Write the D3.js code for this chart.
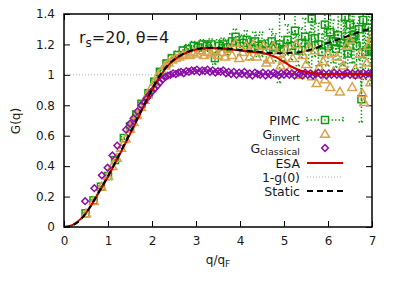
<!DOCTYPE html>
<html>
<head>
<meta charset="utf-8">
<script src="https://cdn.jsdelivr.net/npm/d3@7"></script>
<style>
  body { margin: 0; background: #fff; }
  text { font-family: "DejaVu Sans", sans-serif; fill: #1a1a1a; }
</style>
</head>
<body>
<div id="chart"></div>
<script>
// ---- data ----
let xTicks = [0, 1, 2, 3, 4, 5, 6, 7];
let yTicks = [0, 0.2, 0.4, 0.6, 0.8, 1, 1.2, 1.4];

let staticQ = [0, 0.2, 0.4, 0.6, 0.8, 1.0, 1.2, 1.4, 1.6, 1.8, 2.0, 2.2, 2.4, 2.6, 2.8, 3.0, 3.2, 3.4, 3.6, 3.8, 4.0, 4.2, 4.4, 4.6, 4.8, 5.0, 5.2, 5.4, 5.6, 5.8, 6.0, 6.2, 6.4, 6.6, 6.8, 7.0];
let staticG = [0, 0.012, 0.055, 0.135, 0.235, 0.335, 0.445, 0.56, 0.675, 0.79, 0.905, 1.005, 1.075, 1.12, 1.15, 1.168, 1.177, 1.178, 1.175, 1.17, 1.163, 1.157, 1.152, 1.147, 1.143, 1.142, 1.145, 1.152, 1.165, 1.185, 1.21, 1.23, 1.25, 1.27, 1.29, 1.305];

let esaQ = [0, 0.2, 0.4, 0.6, 0.8, 1.0, 1.2, 1.4, 1.6, 1.8, 2.0, 2.2, 2.4, 2.6, 2.8, 3.0, 3.2, 3.4, 3.6, 3.8, 4.0, 4.2, 4.4, 4.6, 4.8, 5.0, 5.2, 5.4, 5.6, 5.8, 6.0, 6.4, 6.8, 7.0];
let esaG = [0, 0.014, 0.058, 0.133, 0.23, 0.33, 0.44, 0.552, 0.668, 0.785, 0.9, 1.0, 1.072, 1.118, 1.148, 1.166, 1.175, 1.177, 1.172, 1.166, 1.16, 1.153, 1.148, 1.138, 1.118, 1.085, 1.05, 1.025, 1.012, 1.007, 1.005, 1.005, 1.005, 1.005];

let pimcQ = [0.49, 0.67, 0.84, 1.0, 1.16, 1.36, 1.5, 1.64, 1.76, 1.92, 2.05, 2.18, 2.33, 2.45, 2.58, 2.7, 2.82, 2.95, 3.05, 3.15, 3.25, 3.35, 3.43, 3.52, 3.62, 3.72, 3.82, 3.9, 4.0, 4.08, 4.15, 4.25, 4.34, 4.42, 4.5, 4.6, 4.72, 4.8, 4.9, 5.0, 5.08, 5.17, 5.25, 5.33, 5.4, 5.48, 5.56, 5.63, 5.7, 5.78, 5.86, 5.93, 6.0, 6.05, 6.12, 6.18, 6.23, 6.3, 6.35, 6.39, 6.45, 6.5, 6.55, 6.59, 6.65, 6.7, 6.76, 6.8, 6.85, 6.92, 6.97, 7.0];
let pimcG = [0.09, 0.175, 0.265, 0.335, 0.44, 0.585, 0.66, 0.74, 0.81, 0.88, 0.955, 1.02, 1.075, 1.11, 1.13, 1.16, 1.17, 1.19, 1.18, 1.2, 1.19, 1.2, 1.11, 1.19, 1.2, 1.18, 1.22, 1.25, 1.19, 1.21, 1.23, 1.17, 1.22, 1.19, 1.2, 1.16, 1.22, 1.18, 1.2, 1.17, 1.23, 1.19, 1.29, 1.16, 1.21, 1.25, 1.18, 1.37, 1.24, 1.2, 1.15, 1.33, 1.19, 1.28, 1.22, 1.17, 1.26, 1.21, 1.21, 1.38, 1.14, 1.33, 1.24, 1.26, 1.19, 1.3, 0.84, 1.36, 1.15, 1.31, 1.16, 1.16];
let pimcErr = [0.005, 0.005, 0.005, 0.006, 0.006, 0.008, 0.008, 0.01, 0.01, 0.01, 0.012, 0.015, 0.02, 0.02, 0.025, 0.025, 0.03, 0.03, 0.03, 0.03, 0.035, 0.035, 0.04, 0.04, 0.04, 0.05, 0.05, 0.05, 0.06, 0.05, 0.06, 0.07, 0.06, 0.07, 0.08, 0.07, 0.08, 0.09, 0.25, 0.08, 0.1, 0.09, 0.12, 0.1, 0.1, 0.12, 0.1, 0.35, 0.12, 0.14, 0.12, 0.15, 0.13, 0.15, 0.14, 0.12, 0.16, 0.14, 0.15, 0.3, 0.14, 0.2, 0.16, 0.18, 0.15, 0.2, 0.15, 0.25, 0.18, 0.3, 0.2, 0.22];

let invQ = [0.5, 0.68, 0.85, 1.0, 1.1, 1.2, 1.3, 1.4, 1.5, 1.58, 1.66, 1.75, 1.83, 1.9, 1.98, 2.06, 2.14, 2.22, 2.3, 2.38, 2.46, 2.54, 2.62, 2.7, 2.78, 2.86, 2.94, 3.02, 3.1, 3.18, 3.26, 3.34, 3.42, 3.5, 3.58, 3.66, 3.74, 3.82, 3.9, 3.98, 4.06, 4.14, 4.22, 4.3, 4.38, 4.46, 4.53, 4.6, 4.68, 4.76, 4.84, 4.92, 4.98, 5.05, 5.12, 5.2, 5.28, 5.35, 5.43, 5.5, 5.57, 5.64, 5.7, 5.74, 5.8, 5.89, 5.93, 6.0, 6.05, 6.12, 6.2, 6.27, 6.34, 6.42, 6.5, 6.55, 6.62, 6.68, 6.73, 6.78, 6.82, 6.88, 6.92, 6.96, 7.0];
let invG = [0.09, 0.17, 0.265, 0.335, 0.4, 0.455, 0.52, 0.58, 0.645, 0.69, 0.735, 0.79, 0.835, 0.87, 0.915, 0.955, 1.0, 1.03, 1.06, 1.08, 1.1, 1.11, 1.12, 1.13, 1.14, 1.13, 1.15, 1.14, 1.16, 1.13, 1.15, 1.14, 1.16, 1.13, 1.15, 1.12, 1.17, 1.13, 1.21, 1.11, 1.15, 1.19, 1.12, 1.2, 1.12, 1.16, 1.19, 1.08, 1.1, 1.19, 1.14, 1.06, 1.1, 1.17, 1.03, 1.11, 1.2, 1.0, 1.13, 1.07, 1.18, 0.99, 1.16, 0.945, 1.05, 1.09, 0.97, 1.14, 0.92, 1.02, 1.12, 0.89, 1.06, 1.19, 1.23, 0.92, 1.04, 1.0, 1.14, 0.88, 0.82, 1.08, 1.19, 0.95, 1.25];

let clsQ = [0.48, 0.69, 0.86, 0.99, 1.1, 1.21, 1.41, 1.5, 1.58, 1.67, 1.76, 1.82, 1.88, 1.94, 2.0, 2.06, 2.12, 2.18, 2.24, 2.3, 2.36, 2.42, 2.48, 2.54, 2.6, 2.66, 2.72, 2.78, 2.84, 2.9, 2.96, 3.02, 3.08, 3.14, 3.2, 3.26, 3.32, 3.38, 3.44, 3.5, 3.56, 3.62, 3.68, 3.74, 3.8, 3.86, 3.92, 3.98, 4.04, 4.1, 4.16, 4.22, 4.28, 4.34, 4.4, 4.46, 4.52, 4.58, 4.64, 4.7, 4.76, 4.82, 4.88, 4.94, 5.0, 5.06, 5.12, 5.18, 5.24, 5.3, 5.36, 5.42, 5.48, 5.54, 5.6, 5.66, 5.72, 5.78, 5.84, 5.9, 5.96, 6.02, 6.08, 6.14, 6.2, 6.26, 6.32, 6.38, 6.44, 6.5, 6.56, 6.62, 6.68, 6.74, 6.8, 6.86, 6.92, 6.98];
let clsG = [0.17, 0.255, 0.34, 0.39, 0.47, 0.535, 0.64, 0.68, 0.715, 0.76, 0.8, 0.82, 0.845, 0.87, 0.89, 0.91, 0.93, 0.95, 0.97, 0.985, 0.995, 1.0, 1.01, 1.005, 1.015, 1.02, 1.01, 1.025, 1.02, 1.03, 1.025, 1.035, 1.02, 1.03, 1.025, 1.035, 1.02, 1.03, 1.015, 1.025, 1.02, 1.03, 1.01, 1.02, 1.005, 1.02, 1.0, 1.015, 1.005, 1.02, 1.0, 1.01, 0.995, 1.015, 1.005, 1.0, 1.015, 0.995, 1.01, 1.0, 1.015, 1.005, 0.995, 1.01, 1.0, 1.015, 1.0, 1.01, 0.995, 1.01, 1.005, 0.995, 1.015, 1.0, 1.01, 0.995, 1.005, 1.015, 1.0, 1.01, 0.995, 1.01, 1.0, 1.015, 1.0, 1.01, 0.995, 1.005, 1.015, 1.0, 1.01, 0.995, 1.01, 1.0, 1.015, 1.0, 1.01, 1.005];

let oneMinusG0 = 1.0;

let legendLabels = ["PIMC", "invert", "classical", "ESA", "1-g(0)", "Static"];

// ---- layout ----
let svgWidth = 395;
let svgHeight = 286;
let margin = { top: 14, right: 23, bottom: 59, left: 64 };
let width = svgWidth - margin.left - margin.right;
let height = svgHeight - margin.top - margin.bottom;

let green = "#129a12";
let orange = "#d9a24b";
let purple = "#8a10a6";
let red = "#cc0000";

let svg = d3.select("#chart")
  .append("svg")
  .attr("width", svgWidth)
  .attr("height", svgHeight);

let chartGroup = svg.append("g")
  .attr("transform", `translate(${margin.left}, ${margin.top})`);

let x = d3.scaleLinear().domain([0, 7]).range([0, width]);
let y = d3.scaleLinear().domain([0, 1.4]).range([height, 0]);

// axes with inward ticks on all four sides
let bottomAxis = d3.axisBottom(x).tickValues(xTicks).tickFormat(String).tickSize(-6).tickPadding(9);
let topAxis = d3.axisTop(x).tickValues(xTicks).tickFormat("").tickSize(-6);
let leftAxis = d3.axisLeft(y).tickValues(yTicks).tickFormat(String).tickSize(-6).tickPadding(9);
let rightAxis = d3.axisRight(y).tickValues(yTicks).tickFormat("").tickSize(-6);

function styleAxis(g) {
  g.select(".domain").remove();
  g.selectAll("line").attr("stroke", "#000").attr("stroke-width", 1);
  g.selectAll("text").style("font-size", "12px").attr("fill", "#1a1a1a");
}

chartGroup.append("g").attr("transform", `translate(0, ${height})`).call(bottomAxis).call(styleAxis);
chartGroup.append("g").call(topAxis).call(styleAxis);
chartGroup.append("g").call(leftAxis).call(styleAxis);
chartGroup.append("g").attr("transform", `translate(${width}, 0)`).call(rightAxis).call(styleAxis);

// clip for data
svg.append("clipPath").attr("id", "plotclip")
  .append("rect").attr("width", width).attr("height", height);
let plot = chartGroup.append("g").attr("clip-path", "url(#plotclip)");

let line = d3.line().x(d => x(d[0])).y(d => y(d[1]));

// 1-g(0) reference line
plot.append("path")
  .datum([[0, oneMinusG0], [7, oneMinusG0]])
  .attr("d", line)
  .attr("fill", "none")
  .attr("stroke", "#a8a8a8")
  .attr("stroke-width", 1)
  .attr("stroke-dasharray", "1,2");

// PIMC: dotted line, dotted error bars, open squares
let pimc = pimcQ.map((q, i) => [q, pimcG[i], pimcErr[i]]);

plot.append("path")
  .datum(pimc)
  .attr("d", line)
  .attr("fill", "none")
  .attr("stroke", green)
  .attr("stroke-width", 1.5)
  .attr("stroke-dasharray", "1.5,2");

let bars = plot.append("g")
  .attr("stroke", green)
  .attr("stroke-width", 1.5);

pimc.forEach(d => {
  let cx = x(d[0]);
  let y0 = y(d[1] - d[2]);
  let y1 = y(d[1] + d[2]);
  bars.append("line").attr("x1", cx).attr("x2", cx).attr("y1", y0).attr("y2", y1)
    .attr("stroke-dasharray", "1.5,2");
  bars.append("line").attr("x1", cx - 3).attr("x2", cx + 3).attr("y1", y0).attr("y2", y0)
    .attr("stroke-dasharray", "1.5,1.5");
  bars.append("line").attr("x1", cx - 3).attr("x2", cx + 3).attr("y1", y1).attr("y2", y1)
    .attr("stroke-dasharray", "1.5,1.5");
});

plot.selectAll(".pimc")
  .data(pimc)
  .enter()
  .append("rect")
  .attr("x", d => x(d[0]) - 3.5)
  .attr("y", d => y(d[1]) - 3.5)
  .attr("width", 7)
  .attr("height", 7)
  .attr("fill", "none")
  .attr("stroke", green)
  .attr("stroke-width", 1.5);

plot.selectAll(".pimcdot")
  .data(pimc)
  .enter()
  .append("rect")
  .attr("x", d => x(d[0]) - 0.75)
  .attr("y", d => y(d[1]) - 0.75)
  .attr("width", 1.5)
  .attr("height", 1.5)
  .attr("fill", green);

// G_invert: open triangles
let tri = d3.symbol().type(d3.symbolTriangle).size(34);
plot.selectAll(".inv")
  .data(invQ.map((q, i) => [q, invG[i]]))
  .enter()
  .append("path")
  .attr("d", tri)
  .attr("transform", d => `translate(${x(d[0])}, ${y(d[1]) + 0.8})`)
  .attr("fill", "none")
  .attr("stroke", orange)
  .attr("stroke-width", 1.5);

// G_classical: open diamonds
let dia = d3.symbol().type(d3.symbolSquare).size(22);
plot.selectAll(".cls")
  .data(clsQ.map((q, i) => [q, clsG[i]]))
  .enter()
  .append("path")
  .attr("d", dia)
  .attr("transform", d => `translate(${x(d[0])}, ${y(d[1])}) rotate(45)`)
  .attr("fill", "none")
  .attr("stroke", purple)
  .attr("stroke-width", 1.5);

// ESA
let curve = d3.line().curve(d3.curveMonotoneX).x(d => x(d[0])).y(d => y(d[1]));
plot.append("path")
  .datum(esaQ.map((q, i) => [q, esaG[i]]))
  .attr("d", curve)
  .attr("fill", "none")
  .attr("stroke", red)
  .attr("stroke-width", 2);

// Static
plot.append("path")
  .datum(staticQ.map((q, i) => [q, staticG[i]]))
  .attr("d", curve)
  .attr("fill", "none")
  .attr("stroke", "#000")
  .attr("stroke-width", 2)
  .attr("stroke-dasharray", "6,4");

// frame
chartGroup.append("rect")
  .attr("width", width)
  .attr("height", height)
  .attr("fill", "none")
  .attr("stroke", "#000")
  .attr("stroke-width", 1.5);

// axis titles
svg.append("text")
  .attr("transform", "translate(20, 121) rotate(-90)")
  .attr("text-anchor", "middle")
  .style("font-size", "12px")
  .text("G(q)");

let xt = svg.append("text")
  .attr("x", 218)
  .attr("y", 264)
  .attr("text-anchor", "middle")
  .style("font-size", "12px");
xt.append("tspan").text("q/q");
xt.append("tspan").attr("dy", 3).style("font-size", "9px").text("F");

// annotation
let ann = svg.append("text")
  .attr("x", 79)
  .attr("y", 43)
  .style("font-size", "16px");
ann.append("tspan").text("r");
ann.append("tspan").attr("dy", 4).style("font-size", "12px").text("s");
ann.append("tspan").attr("dy", -4).text("=20, θ=4");

// legend
let legend = svg.append("g");
let rowsY = [120, 134, 148, 163, 177, 191];
let lx0 = 307, lx1 = 343, lxm = 325, textX = 300;

function legendText(i, main, sub) {
  let t = legend.append("text")
    .attr("x", textX)
    .attr("y", rowsY[i] + 4.5)
    .attr("text-anchor", "end")
    .style("font-size", "12.5px");
  t.append("tspan").text(main);
  if (sub) {
    t.append("tspan").attr("dy", 2).style("font-size", "9.5px").text(sub);
  }
}

legendText(0, legendLabels[0]);
legendText(1, "G", legendLabels[1]);
legendText(2, "G", legendLabels[2]);
legendText(3, legendLabels[3]);
legendText(4, legendLabels[4]);
legendText(5, legendLabels[5]);

// PIMC key
legend.append("line").attr("x1", lx0).attr("x2", lx1).attr("y1", rowsY[0]).attr("y2", rowsY[0])
  .attr("stroke", green).attr("stroke-width", 1.5).attr("stroke-dasharray", "1.5,2");
[lx0, lx1].forEach(cx => {
  legend.append("line").attr("x1", cx).attr("x2", cx).attr("y1", rowsY[0] - 3).attr("y2", rowsY[0] + 3)
    .attr("stroke", green).attr("stroke-width", 1.5).attr("stroke-dasharray", "1.5,1.5");
});
legend.append("rect").attr("x", lxm - 3.5).attr("y", rowsY[0] - 3.5).attr("width", 7).attr("height", 7)
  .attr("fill", "#fff").attr("stroke", green).attr("stroke-width", 1.5);
legend.append("rect").attr("x", lxm - 0.75).attr("y", rowsY[0] - 0.75).attr("width", 1.5).attr("height", 1.5)
  .attr("fill", green);

legend.append("path").attr("d", tri)
  .attr("transform", `translate(${lxm}, ${rowsY[1] + 0.8})`)
  .attr("fill", "none").attr("stroke", orange).attr("stroke-width", 1.5);

legend.append("path").attr("d", dia)
  .attr("transform", `translate(${lxm}, ${rowsY[2]}) rotate(45)`)
  .attr("fill", "none").attr("stroke", purple).attr("stroke-width", 1.5);

legend.append("line").attr("x1", lx0).attr("x2", lx1).attr("y1", rowsY[3]).attr("y2", rowsY[3])
  .attr("stroke", red).attr("stroke-width", 2);

legend.append("line").attr("x1", lx0).attr("x2", lx1).attr("y1", rowsY[4]).attr("y2", rowsY[4])
  .attr("stroke", "#a8a8a8").attr("stroke-width", 1).attr("stroke-dasharray", "1,2");

legend.append("line").attr("x1", lx0).attr("x2", lx1).attr("y1", rowsY[5]).attr("y2", rowsY[5])
  .attr("stroke", "#000").attr("stroke-width", 2).attr("stroke-dasharray", "6,4");
</script>
</body>
</html>
